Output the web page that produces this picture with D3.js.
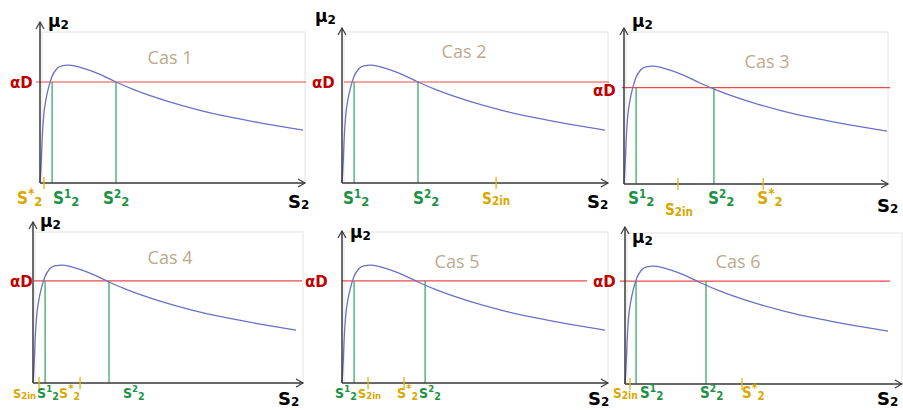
<!DOCTYPE html>
<html>
<head>
<meta charset="utf-8">
<script src="https://cdn.jsdelivr.net/npm/d3@7"></script>
<style>
  html, body { margin: 0; padding: 0; background: #ffffff; }
  svg { display: block; }
</style>
</head>
<body>
<svg id="chart" width="903" height="410"></svg>
<script>
// Growth-rate curve mu2(S2), sampled (S2 in arbitrary units 0..10, mu2 in 0..1)
const curveS  = [0, 0.05, 0.08, 0.14, 0.22, 0.32, 0.44, 0.63, 0.83, 1.08, 1.40, 1.78, 2.28, 2.89, 3.57, 4.83, 6.08, 7.38, 8.63, 10.0];
const curveMu = [0, 0.15, 0.28, 0.44, 0.54, 0.62, 0.69, 0.745, 0.765, 0.77, 0.762, 0.742, 0.71, 0.66, 0.61, 0.535, 0.475, 0.425, 0.385, 0.345];

// One entry per case
const caseNames = ["Cas 1", "Cas 2", "Cas 3", "Cas 4", "Cas 5", "Cas 6"];
const alphaD    = [0.66, 0.66, 0.63, 0.667, 0.667, 0.673];
const s1Values  = [0.46, 0.46, 0.46, 0.46, 0.46, 0.42];
const s2Values  = [2.89, 2.89, 3.42, 2.89, 3.16, 3.08];
const sInValues = [null, 5.86, 2.05, 0.23, 0.99, 0.19];
const sStarValues = [0.15, null, 5.29, 1.79, 2.36, 4.45];

// Panel layout: axis origin, axis ends, text placement
const layout = [
  { ox: 40,  oy: 183, xEnd: 305, yTop: 22,  frameTop: 32,  redFrom: 36,  redTo: 306,
    mu: [48, 27],  sAx: [288, 208], aD: [10, 88],  cas: [170, 58],
    dx: { s1: 1, s2: -13, sIn: 0, sStar: -27 }, ly: 204, lyIn: 204, fs: 17 },
  { ox: 342, oy: 183, xEnd: 608, yTop: 28,  frameTop: 32,  redFrom: 344, redTo: 609,
    mu: [315, 22], sAx: [587, 208], aD: [312, 88], cas: [464, 52],
    dx: { s1: -11, s2: -5, sIn: -14, sStar: 0 }, ly: 204, lyIn: 204, fs: 17 },
  { ox: 624, oy: 184, xEnd: 888, yTop: 28,  frameTop: 32,  redFrom: 622, redTo: 890,
    mu: [632, 27], sAx: [877, 212], aD: [593, 96], cas: [767, 62],
    dx: { s1: -8, s2: -6, sIn: -13, sStar: -6 }, ly: 204, lyIn: 215, fs: 17 },
  { ox: 33,  oy: 383, xEnd: 303, yTop: 222, frameTop: 232, redFrom: 34,  redTo: 302,
    mu: [40, 227], sAx: [278, 405], aD: [10, 287], cas: [170, 258],
    dx: { s1: -8, s2: 14, sIn: -26, sStar: -21 }, ly: 398, lyIn: 398, fs: 14 },
  { ox: 342, oy: 383, xEnd: 608, yTop: 231, frameTop: 232, redFrom: 342, redTo: 587,
    mu: [350, 238], sAx: [588, 405], aD: [305, 287], cas: [457, 262],
    dx: { s1: -19, s2: -6, sIn: -10, sStar: -7 }, ly: 398, lyIn: 398, fs: 14 },
  { ox: 625, oy: 384, xEnd: 902, yTop: 227, frameTop: 233, redFrom: 620, redTo: 890,
    mu: [632, 243], sAx: [877, 405], aD: [593, 287], cas: [738, 262],
    dx: { s1: 4, s2: -6, sIn: -17, sStar: 0 }, ly: 398, lyIn: 398, fs: 15 }
];

const colors = {
  axis: "#3a3a3a",
  frame: "#e4e4e4",
  curve: "#6b70c6",
  red: "#f04848",
  redText: "#c00000",
  green: "#3aa865",
  greenText: "#1c9245",
  gold: "#e2b311",
  goldText: "#d9a800",
  cas: "#bcaa8e"
};

const labelFont = "'DejaVu Sans', Verdana, sans-serif";
const tickFont = "'DejaVu Sans Condensed', 'DejaVu Sans', sans-serif";
const svg = d3.select("#chart");
const curvePts = curveS.map((s, i) => [s, curveMu[i]]);

function arrowRight(g, x, y) {
  g.append("path").attr("d", `M${x - 7},${y - 4} L${x},${y} L${x - 7},${y + 4}`)
    .attr("fill", "none").attr("stroke", colors.axis).attr("stroke-width", 1.2);
}
function arrowUp(g, x, y) {
  g.append("path").attr("d", `M${x - 4},${y + 7} L${x},${y} L${x + 4},${y + 7}`)
    .attr("fill", "none").attr("stroke", colors.axis).attr("stroke-width", 1.2);
}

// S label with a superscript mark and subscript 2
function sLabel(g, x, y, sup, color, fs) {
  const t = g.append("text").attr("x", x).attr("y", y)
    .attr("font-family", tickFont).attr("font-weight", "bold")
    .attr("font-size", fs).attr("fill", color);
  t.append("tspan").text("S");
  t.append("tspan").attr("font-size", fs * (sup === "*" ? 0.8 : 0.68)).attr("dy", -6).text(sup);
  t.append("tspan").attr("font-size", fs * 0.76).attr("dy", 8).text("2");
}
function sInLabel(g, x, y, fs) {
  const t = g.append("text").attr("x", x).attr("y", y)
    .attr("font-family", tickFont).attr("font-weight", "bold")
    .attr("font-size", fs * 0.9).attr("fill", colors.goldText);
  t.append("tspan").text("S");
  t.append("tspan").attr("font-size", fs * 0.68).attr("dy", 1).text("2in");
}

caseNames.forEach((name, i) => {
  const L = layout[i];
  const g = svg.append("g");
  const x = d3.scaleLinear().domain([0, 10]).range([L.ox, L.ox + 263]);
  const y = d3.scaleLinear().domain([0, 1]).range([L.oy, L.oy - 153]);

  // light plot frame
  g.append("rect").attr("x", L.ox + 2).attr("y", L.frameTop)
    .attr("width", L.xEnd - L.ox - 2).attr("height", L.oy - L.frameTop)
    .attr("fill", "none").attr("stroke", colors.frame).attr("stroke-width", 1);

  // alpha*D level
  g.append("line").attr("x1", L.redFrom).attr("x2", L.redTo)
    .attr("y1", y(alphaD[i])).attr("y2", y(alphaD[i]))
    .attr("stroke", colors.red).attr("stroke-width", 1.2);

  // equilibrium verticals S1 and S2
  [s1Values[i], s2Values[i]].forEach(v => {
    g.append("line").attr("x1", x(v)).attr("x2", x(v))
      .attr("y1", L.oy).attr("y2", y(alphaD[i]))
      .attr("stroke", colors.green).attr("stroke-width", 1.3);
  });

  // curve
  const line = d3.line().x(d => x(d[0])).y(d => y(d[1])).curve(d3.curveMonotoneX);
  g.append("path").attr("d", line(curvePts))
    .attr("fill", "none").attr("stroke", colors.curve).attr("stroke-width", 1.3);

  // axes
  g.append("line").attr("x1", L.ox).attr("x2", L.xEnd).attr("y1", L.oy).attr("y2", L.oy)
    .attr("stroke", colors.axis).attr("stroke-width", 1.5);
  g.append("line").attr("x1", L.ox).attr("x2", L.ox).attr("y1", L.oy).attr("y2", L.yTop)
    .attr("stroke", colors.axis).attr("stroke-width", 1.5);
  arrowRight(g, L.xEnd, L.oy);
  arrowUp(g, L.ox, L.yTop);

  // gold ticks for S2in and S*2
  [sInValues[i], sStarValues[i]].forEach(v => {
    if (v === null) return;
    g.append("line").attr("x1", x(v)).attr("x2", x(v))
      .attr("y1", L.oy - 6).attr("y2", L.oy + 6)
      .attr("stroke", colors.gold).attr("stroke-width", 1.3);
  });

  // tick labels
  sLabel(g, x(s1Values[i]) + L.dx.s1, L.ly, "1", colors.greenText, L.fs);
  sLabel(g, x(s2Values[i]) + L.dx.s2, L.ly, "2", colors.greenText, L.fs);
  if (sStarValues[i] !== null) sLabel(g, x(sStarValues[i]) + L.dx.sStar, L.ly, "*", colors.goldText, L.fs);
  if (sInValues[i] !== null) sInLabel(g, x(sInValues[i]) + L.dx.sIn, L.lyIn, L.fs);

  // axis titles
  const mu = g.append("text").attr("x", L.mu[0]).attr("y", L.mu[1])
    .attr("font-family", labelFont).attr("font-weight", "bold").attr("font-size", 17).attr("fill", "#000");
  mu.append("tspan").text("μ");
  mu.append("tspan").attr("font-size", 12).attr("dy", 2).text("2");

  const sa = g.append("text").attr("x", L.sAx[0]).attr("y", L.sAx[1])
    .attr("font-family", labelFont).attr("font-weight", "bold").attr("font-size", 18).attr("fill", "#000");
  sa.append("tspan").text("S");
  sa.append("tspan").attr("font-size", 12).attr("dy", 1).text("2");

  g.append("text").attr("x", L.aD[0]).attr("y", L.aD[1])
    .attr("font-family", labelFont).attr("font-weight", "bold").attr("font-size", 15)
    .attr("fill", colors.redText).text("αD");

  g.append("text").attr("x", L.cas[0]).attr("y", L.cas[1]).attr("dy", "0.35em")
    .attr("text-anchor", "middle").attr("font-family", "'Open Sans', sans-serif")
    .attr("font-size", 18).attr("fill", colors.cas).text(name);
});
</script>
</body>
</html>
